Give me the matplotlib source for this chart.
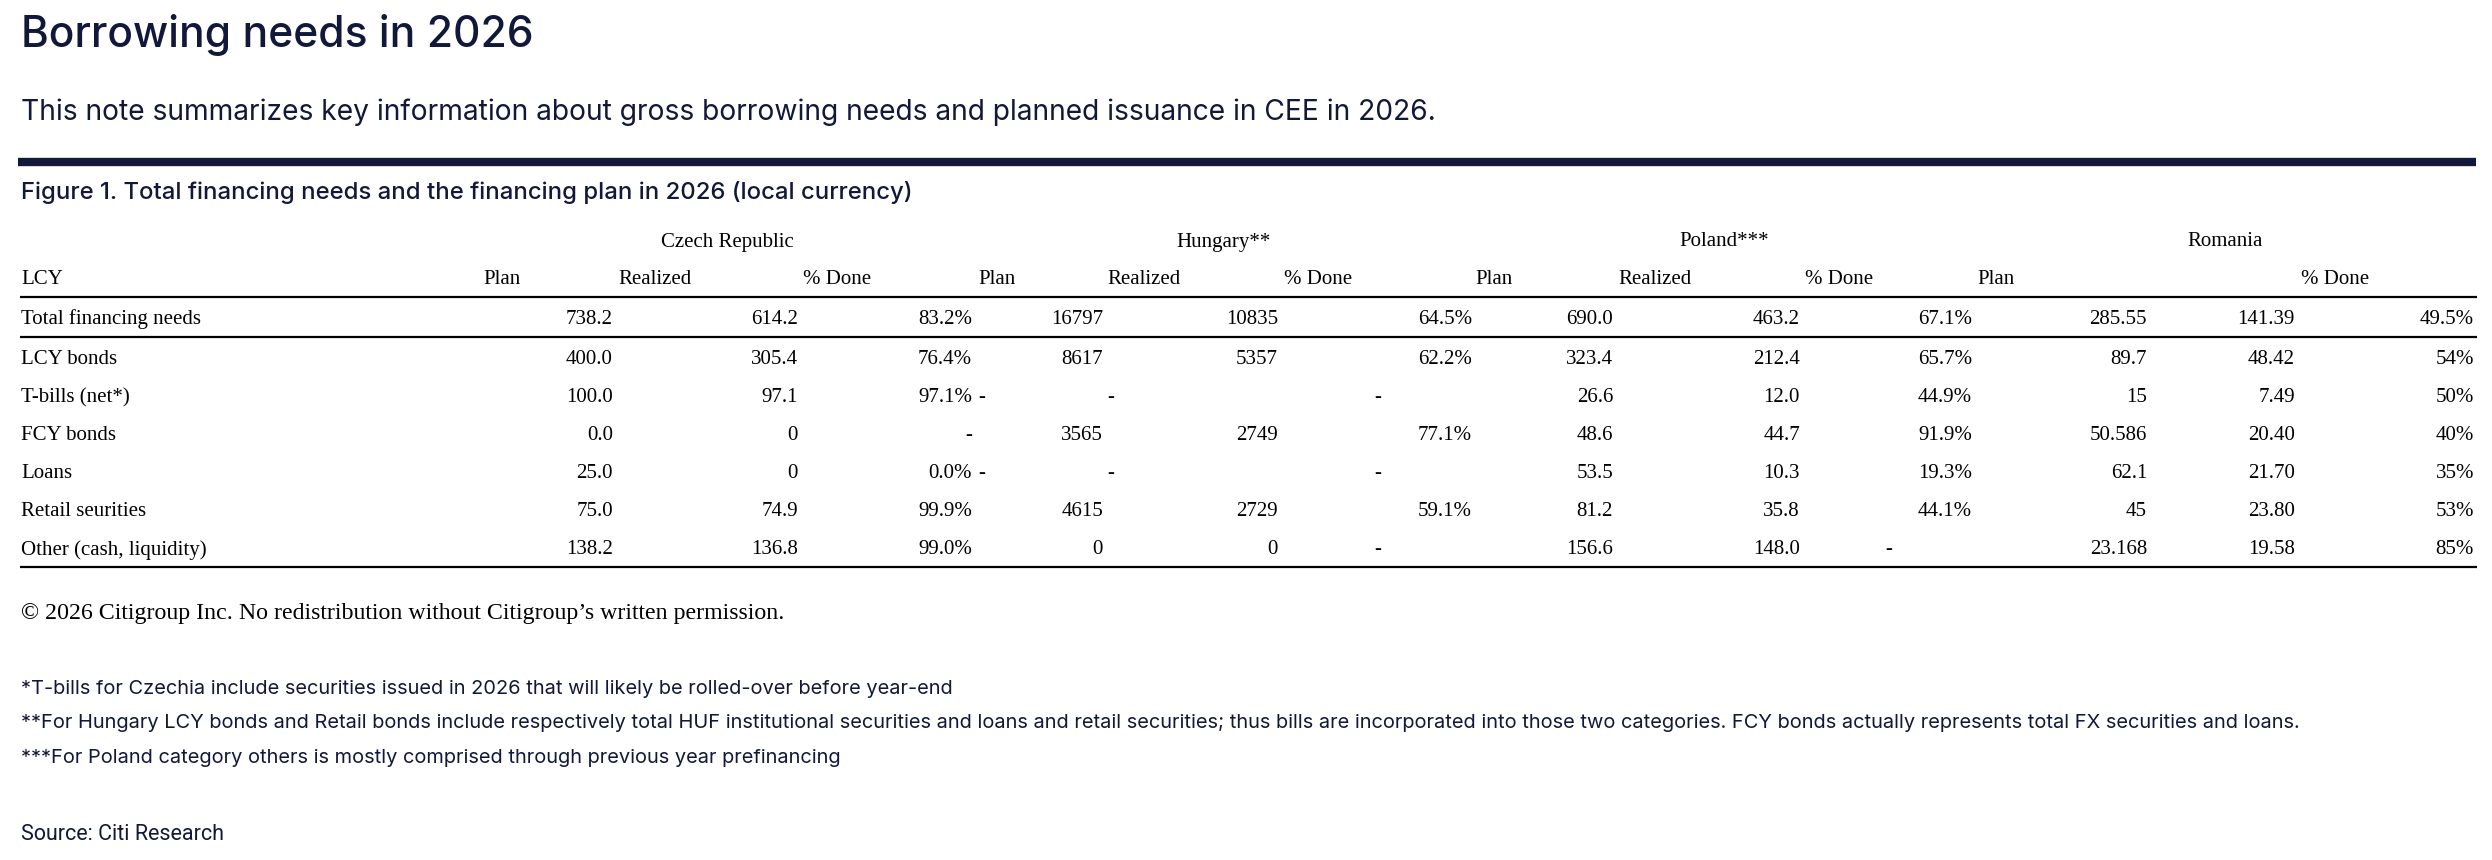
import matplotlib
matplotlib.use("Agg")
import matplotlib.pyplot as plt

NAVY = "#12183a"
SANS = ["Inter", "DejaVu Sans"]
SERIF = ["Liberation Serif", "DejaVu Serif"]
NARROW = ["Roboto", "DejaVu Sans"]

title = "Borrowing needs in 2026"
subtitle = ("This note summarizes key information about gross borrowing needs "
            "and planned issuance in CEE in 2026.")
fig_title = "Figure 1. Total financing needs and the financing plan in 2026 (local currency)"

countries = ["Czech Republic", "Hungary**", "Poland***", "Romania"]
col_headers = ["Plan", "Realized", "% Done",
               "Plan", "Realized", "% Done",
               "Plan", "Realized", "% Done",
               "Plan", "", "% Done"]

row_labels = ["Total financing needs", "LCY bonds", "T-bills (net*)", "FCY bonds",
              "Loans", "Retail seurities", "Other (cash, liquidity)"]

cz_plan = ["738.2", "400.0", "100.0", "0.0", "25.0", "75.0", "138.2"]
cz_real = ["614.2", "305.4", "97.1", "0", "0", "74.9", "136.8"]
cz_done = ["83.2%", "76.4%", "97.1%", "-", "0.0%", "99.9%", "99.0%"]
hu_plan = ["16797", "8617", "-", "3565", "-", "4615", "0"]
hu_real = ["10835", "5357", "-", "2749", "-", "2729", "0"]
hu_done = ["64.5%", "62.2%", "-", "77.1%", "-", "59.1%", "-"]
pl_plan = ["690.0", "323.4", "26.6", "48.6", "53.5", "81.2", "156.6"]
pl_real = ["463.2", "212.4", "12.0", "44.7", "10.3", "35.8", "148.0"]
pl_done = ["67.1%", "65.7%", "44.9%", "91.9%", "19.3%", "44.1%", "-"]
ro_plan = ["285.55", "89.7", "15", "50.586", "62.1", "45", "23.168"]
ro_real = ["141.39", "48.42", "7.49", "20.40", "21.70", "23.80", "19.58"]
ro_done = ["49.5%", "54%", "50%", "40%", "35%", "53%", "85%"]

columns = [cz_plan, cz_real, cz_done, hu_plan, hu_real, hu_done,
           pl_plan, pl_real, pl_done, ro_plan, ro_real, ro_done]

copyright_note = "\u00a9 2026 Citigroup Inc. No redistribution without Citigroup\u2019s written permission."
footnotes = [
    "*T-bills for Czechia include securities issued in 2026 that will likely be rolled-over before year-end",
    "**For Hungary LCY bonds and Retail bonds include respectively total HUF institutional securities and "
    "loans and retail securities; thus bills are incorporated into those two categories. FCY bonds actually "
    "represents total FX securities and loans.",
    "***For Poland category others is mostly comprised through previous year prefinancing",
]
source = "Source: Citi Research"

# layout (pixel coordinates of the 2492x860 canvas)
W, H = 2492, 860
LEFT = 21
col_left = [483, 618, 803, 978, 1107, 1284, 1475, 1618, 1805, 1977, 2152, 2301]
col_right = [613, 798, 972, 1103, 1278, 1472, 1613, 1800, 1972, 2147, 2295, 2474]
dash_align = ["right", "right", "right", "left", "left", "center",
              "right", "right", "center", "right", "right", "right"]
country_x = [727, 1224, 1724, 2225]
y_country = 242
y_header = 280
row_y = [319, 359, 398, 436, 474, 512, 550]

fig = plt.figure(figsize=(W / 100, H / 100), dpi=100)
ax = fig.add_axes([0, 0, 1, 1])
ax.set_xlim(0, W)
ax.set_ylim(H, 0)
ax.axis("off")

ax.text(LEFT, 35, title, fontsize=30.6, family=SANS, weight="medium", color=NAVY, va="center")
ax.text(LEFT, 112, subtitle, fontsize=20.3, family=SANS, color=NAVY, va="center")
ax.plot([18, 2476], [162, 162], color=NAVY, lw=6, solid_capstyle="butt")
ax.text(LEFT, 193, fig_title, fontsize=17.2, family=SANS, weight="medium", color=NAVY, va="center")

tfs = 15
for name, cx in zip(countries, country_x):
    ax.text(cx, y_country, name, fontsize=tfs, family=SERIF, ha="center", va="center")

ax.text(LEFT, y_header, "LCY", fontsize=tfs, family=SERIF, va="center")
for head, xl in zip(col_headers, col_left):
    ax.text(xl, y_header, head, fontsize=tfs, family=SERIF, ha="left", va="center")

for label, y in zip(row_labels, row_y):
    ax.text(LEFT, y, label, fontsize=tfs, family=SERIF, va="center")

for values, xl, xr, dal in zip(columns, col_left, col_right, dash_align):
    for val, y in zip(values, row_y):
        if val == "-":
            x = {"left": xl, "right": xr, "center": (xl + xr) / 2}[dal]
            ax.text(x, y, val, fontsize=tfs, family=SERIF, ha=dal, va="center")
        else:
            ax.text(xr, y, val, fontsize=tfs, family=SERIF, ha="right", va="center")

for y in [297, 337, 567]:
    ax.plot([20, 2477], [y, y], color="black", lw=1.6, solid_capstyle="butt")

ax.text(LEFT, 614, copyright_note, fontsize=17.2, family=SERIF, va="center")
for note, y in zip(footnotes, [689, 723, 758]):
    ax.text(LEFT, y, note, fontsize=14.4, family=SANS, color=NAVY, va="center")
ax.text(LEFT, 834, source, fontsize=15.5, family=NARROW, color=NAVY, va="center")

fig.savefig("out.png", dpi=100)
